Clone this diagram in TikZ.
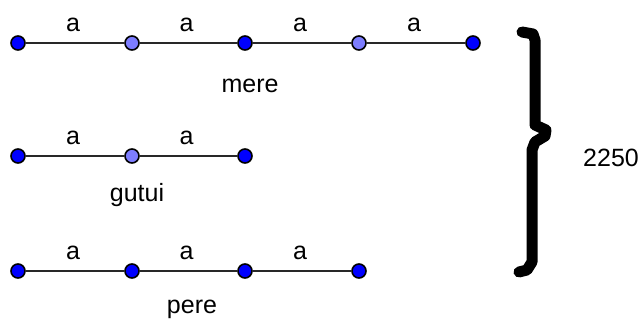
\documentclass[tikz,border=0pt]{standalone}
\usepackage{fontspec}
\setmainfont{Liberation Sans}
\definecolor{ptdark}{RGB}{0,0,255}
\definecolor{ptlight}{RGB}{125,125,255}
\definecolor{seg}{RGB}{40,40,40}
\tikzset{
  pt/.style={circle, draw=black, line width=1.6pt, fill=ptdark, inner sep=0pt, minimum size=14pt},
  ptl/.style={pt, fill=ptlight},
  segline/.style={draw=seg, line width=2pt},
  seglabel/.style={font=\fontsize{25}{28}\selectfont, above=9pt, inner sep=1pt, xshift=-2pt},
  rowname/.style={font=\fontsize{25}{28}\selectfont, inner sep=0pt},
}
\begin{document}
\begin{tikzpicture}[x=1pt,y=-1pt]
\useasboundingbox (0,0) rectangle (644,323);
% row 1: mere
\node[pt]  (m1) at (18,43) {};
\node[ptl] (m2) at (132,43) {};
\node[pt]  (m3) at (245,43) {};
\node[ptl] (m4) at (359,43) {};
\node[pt]  (m5) at (473,43) {};
% row 2: gutui
\node[pt]  (g1) at (18,156) {};
\node[ptl] (g2) at (132,156) {};
\node[pt]  (g3) at (245,156) {};
% row 3: pere
\node[pt] (p1) at (18,271) {};
\node[pt] (p2) at (132,271) {};
\node[pt] (p3) at (245,271) {};
\node[pt] (p4) at (359,271) {};
% segments between the points
\path[segline] (m1) -- node[seglabel]{a} (m2);
\path[segline] (m2) -- node[seglabel]{a} (m3);
\path[segline] (m3) -- node[seglabel]{a} (m4);
\path[segline] (m4) -- node[seglabel]{a} (m5);
\path[segline] (g1) -- node[seglabel]{a} (g2);
\path[segline] (g2) -- node[seglabel]{a} (g3);
\path[segline] (p1) -- node[seglabel]{a} (p2);
\path[segline] (p2) -- node[seglabel]{a} (p3);
\path[segline] (p3) -- node[seglabel]{a} (p4);
% row names
\node[rowname] (tm) at (250,86) {mere};
\node[rowname] (tg) at (137,195) {gutui};
\node[rowname] (tp) at (192,309) {pere};
% hand-drawn brace
\draw[line width=11pt, line cap=round, line join=round]
  (522,32) -- (533,34) -- (535,40) -- (535,125) -- (546,130) -- (545,136)
  -- (535,142) -- (532,150) -- (532,262) -- (527,270) -- (519,272);
\node[rowname] (total) at (611,158) {2250};
\end{tikzpicture}
\end{document}
